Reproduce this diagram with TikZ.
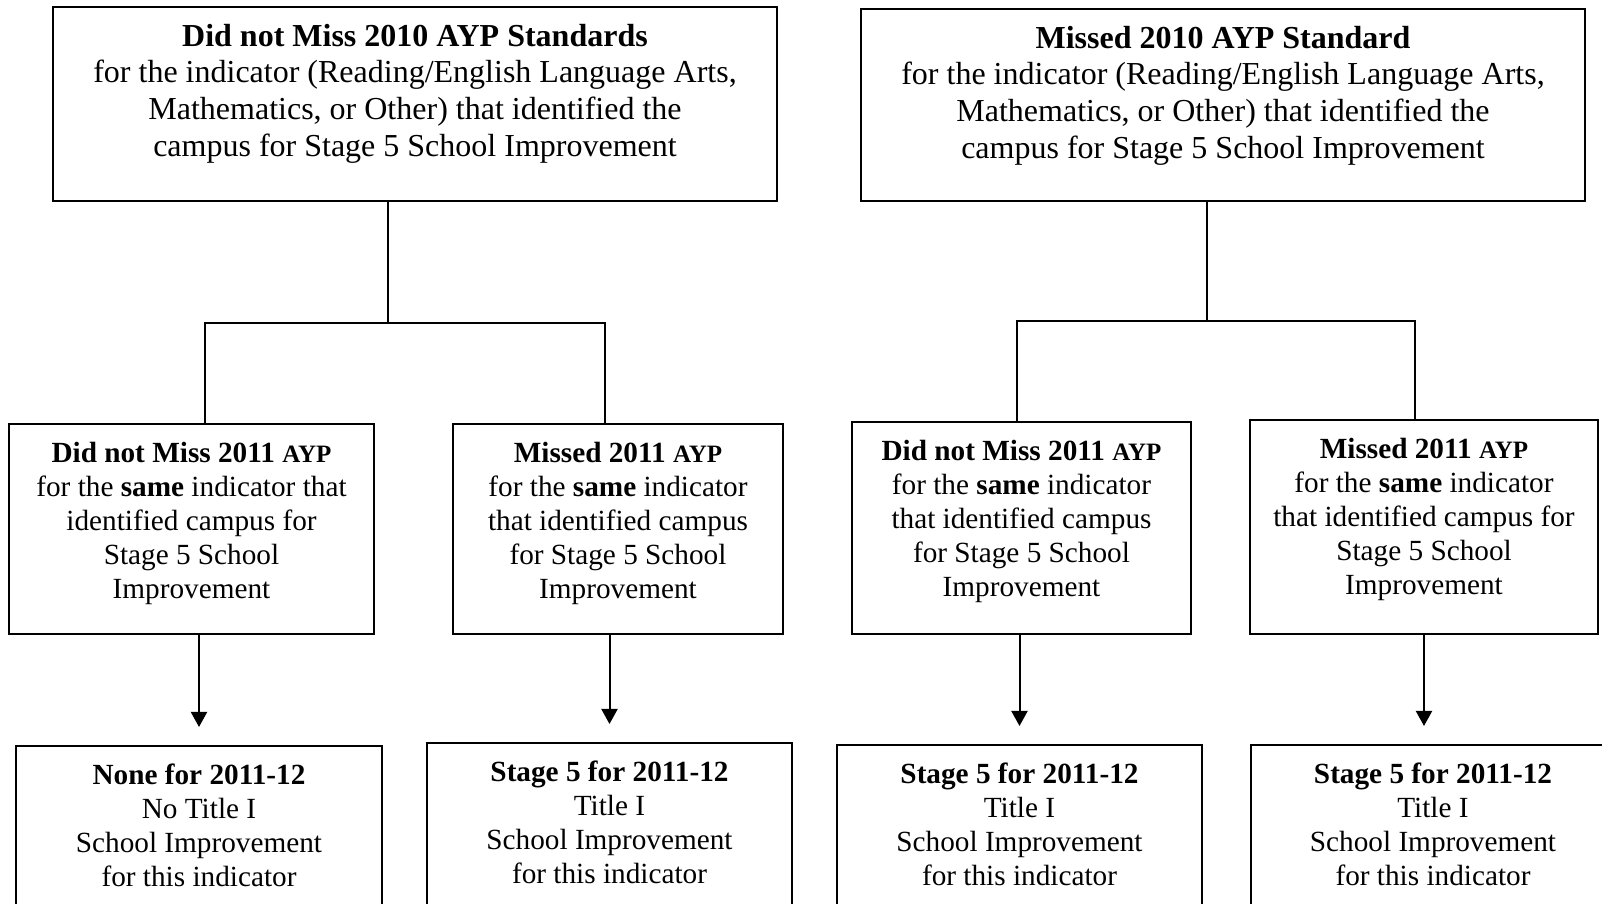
\documentclass[tikz,border=0pt]{standalone}
\usepackage{fontspec}
\setmainfont{Liberation Serif}
\usetikzlibrary{positioning}
\usetikzlibrary{arrows.meta}
\tikzset{
    box/.style = {draw, line width=0.8pt, inner sep=0pt},
    toptext/.style = {align=center, inner sep=0pt, font=\fontsize{12.8}{14.7}\selectfont},
    subtext/.style = {align=center, inner sep=0pt, font=\fontsize{11.7}{13.6}\selectfont},
    link/.style = {line width=0.8pt},
    arr/.style = {line width=0.8pt, -{Triangle[length=6pt,width=6.4pt]}, shorten >=7.2pt}
}
\newcommand{\ayp}{{\fontsize{10}{13.6}\selectfont AYP}}

\begin{document}
\begin{tikzpicture}[x=0.4pt, y=-0.4pt]
    \useasboundingbox (0,0) rectangle (1602,904);
    \clip (0,0) rectangle (1602,904);
    % top row
    \node [box, minimum width=289.6pt, minimum height=77.6pt] (tl) at (415,104) {};
    \node [box, minimum width=289.6pt, minimum height=76.8pt] (tr) at (1223,105) {};
    \node [toptext, below=7pt of tl.north] (tltext) {\textbf{Did not Miss 2010 AYP Standards}\\for the indicator (Reading/English Language Arts,\\Mathematics, or Other) that identified the\\campus for Stage 5 School Improvement};
    \node [toptext, below=7pt of tr.north] (trtext) {\textbf{Missed 2010 AYP Standard}\\for the indicator (Reading/English Language Arts,\\Mathematics, or Other) that identified the\\campus for Stage 5 School Improvement};
    % middle row
    \node [box, minimum width=146pt, minimum height=84pt] (ma) at (191.5,529) {};
    \node [box, minimum width=132pt, minimum height=84pt] (mb) at (618,529) {};
    \node [box, minimum width=135.6pt, minimum height=84.8pt] (mc) at (1021.5,528) {};
    \node [box, minimum width=139.2pt, minimum height=85.6pt] (md) at (1424,527) {};
    \node [subtext, below=7.4pt of ma.north] (matext) {\textbf{Did not Miss 2011 \ayp}\\for the \textbf{same} indicator that\\identified campus for\\Stage 5 School\\Improvement};
    \node [subtext, below=7.4pt of mb.north] (mbtext) {\textbf{Missed 2011 \ayp}\\for the \textbf{same} indicator\\that identified campus\\for Stage 5 School\\Improvement};
    \node [subtext, below=7.4pt of mc.north] (mctext) {\textbf{Did not Miss 2011 \ayp}\\for the \textbf{same} indicator\\that identified campus\\for Stage 5 School\\Improvement};
    \node [subtext, below=7.4pt of md.north] (mdtext) {\textbf{Missed 2011 \ayp}\\for the \textbf{same} indicator\\that identified campus for\\Stage 5 School\\Improvement};
    % bottom row
    \node [box, minimum width=146.4pt, minimum height=85.6pt] (ba) at (199,853) {};
    \node [box, minimum width=146pt, minimum height=85.6pt] (bb) at (609.5,850) {};
    \node [box, minimum width=146pt, minimum height=85.6pt] (bc) at (1019.5,852) {};
    \node [box, minimum width=145.6pt, minimum height=85.6pt] (bd) at (1433,852) {};
    \node [subtext, below=7.4pt of ba.north] (batext) {\textbf{None for 2011-12}\\No Title I\\School Improvement\\for this indicator};
    \node [subtext, below=7.4pt of bb.north] (bbtext) {\textbf{Stage 5 for 2011-12}\\Title I\\School Improvement\\for this indicator};
    \node [subtext, below=7.4pt of bc.north] (bctext) {\textbf{Stage 5 for 2011-12}\\Title I\\School Improvement\\for this indicator};
    \node [subtext, below=7.4pt of bd.north] (bdtext) {\textbf{Stage 5 for 2011-12}\\Title I\\School Improvement\\for this indicator};
    % branch points
    \coordinate (jl) at (388,323);
    \coordinate (jla) at (205,323);
    \coordinate (jlb) at (605,323);
    \coordinate (jr) at (1207,321);
    \coordinate (jrc) at (1017,321);
    \coordinate (jrd) at (1415,321);
    \draw [link] (tl.south -| jl) -- (jl);
    \draw [link] (jla |- ma.north) |- (jlb) -- (jlb |- mb.north);
    \draw [link] (tr.south -| jr) -- (jr);
    \draw [link] (jrc |- mc.north) |- (jrd) -- (jrd |- md.north);
    % arrows down
    \draw [arr] (ma.south -| ba.north) -- (ba.north);
    \draw [arr] (mb.south -| bb.north) -- (bb.north);
    \draw [arr] (mc.south -| bc.north) -- (bc.north);
    \draw [arr] (md.south) -- (md.south |- bd.north);
\end{tikzpicture}
\end{document}
